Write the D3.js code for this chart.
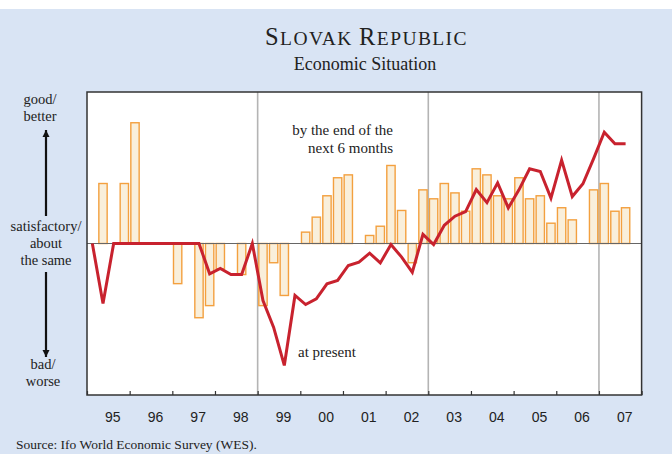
<!DOCTYPE html>
<html>
<head>
<meta charset="utf-8">
<script src="https://cdn.jsdelivr.net/npm/d3@7"></script>
<style>
  body { margin: 0; background: #fff; }
  svg { display: block; }
</style>
</head>
<body>
<svg width="672" height="454"></svg>
<script>
var svg = d3.select("svg"),
    width = +svg.attr("width"),
    height = +svg.attr("height");

// years on the axis
var years = ["95", "96", "97", "98", "99", "00", "01", "02", "03", "04", "05", "06", "07"];
var firstYear = 1995;

// "at present", quarterly from 1995 Q1 to 2007 Q3
var present = [
   0, -39.6, 0, 0,
   0, 0, 0, 0,
   0, 0, 0, -20,
  -16.5, -20.5, -20.5, 0,
  -37.6, -55.4, -80.5, -34.3,
  -40.3, -36.5, -26.6, -24.4,
  -14.5, -12.3, -6.4, -12.8,
  -0.7, -9, -19, 6,
  -0.7, 12, 18, 21,
   35.6, 27, 40, 23.5,
   35.4, 49.3, 47.5, 30,
   55, 31, 39.4, 56,
   73.5, 65.8, 65.8
];

// "by the end of the next 6 months", same quarters (null = no bar)
var expected = [
  null, 39.6, null, 39.6,
  79.7, null, null, null,
  -26.5, null, -49, -41,
  -16.7, null, -20.5, null,
  -41, -12.7, -34.3, null,
   7.5, 17.4, 31.5, 43.4,
   45.3, null, 5.3, 11.4,
   51.5, 21.8, -12.7, 35.4,
   29.5, 39.6, 33.4, 21.3,
   49.3, 45.3, 31.5, 29.5,
   43.4, 29.5, 31.5, 13.4,
   23.6, 15.6, null, 35.4,
   39.6, 21.3, 23.6
];

var gridYears = [1999, 2003, 2007];

var plot = {left: 87, right: 641.6, top: 92, bottom: 395};
var serif = "'Liberation Serif', 'Times New Roman', serif";

// background
svg.append("rect")
    .attr("x", 0).attr("y", 9)
    .attr("width", width).attr("height", height - 9)
    .attr("fill", "#d9e4f4");

var x = d3.scaleLinear()
    .domain([firstYear, firstYear + years.length])
    .range([plot.left, plot.right]);

var y = d3.scaleLinear()
    .domain([-100, 100])
    .range([plot.bottom, plot.top]);

var qx = function(i) { return x(firstYear + (i + 0.5) / 4); };
var barW = (x(firstYear + 0.25) - x(firstYear)) * 0.78;

// plot area
svg.append("rect")
    .attr("x", plot.left).attr("y", plot.top)
    .attr("width", plot.right - plot.left)
    .attr("height", plot.bottom - plot.top)
    .attr("fill", "#fff");

// vertical grid lines
svg.append("g")
  .selectAll("line")
  .data(gridYears)
  .enter()
  .append("line")
    .attr("x1", function(d){ return x(d) })
    .attr("x2", function(d){ return x(d) })
    .attr("y1", plot.top)
    .attr("y2", plot.bottom)
    .attr("stroke", "#b4b4b4")
    .attr("stroke-width", 1.6);

// bars
svg.append("g")
  .selectAll("rect")
  .data(expected.map(function(v, i){ return {i: i, v: v}; }).filter(function(d){ return d.v !== null; }))
  .enter()
  .append("rect")
    .attr("x", function(d){ return qx(d.i) - barW / 2 })
    .attr("y", function(d){ return Math.min(y(d.v), y(0)) })
    .attr("width", barW)
    .attr("height", function(d){ return Math.abs(y(d.v) - y(0)) })
    .attr("fill", "#f9efdb")
    .attr("stroke", "#f3a03f")
    .attr("stroke-width", 1.4);

// zero line
svg.append("line")
    .attr("x1", plot.left).attr("x2", plot.right)
    .attr("y1", y(0)).attr("y2", y(0))
    .attr("stroke", "#666")
    .attr("stroke-width", 1.2);

// present line
svg.append("path")
    .datum(present)
    .attr("fill", "none")
    .attr("stroke", "#c8222e")
    .attr("stroke-width", 3)
    .attr("stroke-linejoin", "miter")
    .attr("d", d3.line()
        .x(function(d, i){ return qx(i) })
        .y(function(d){ return y(d) })
    );

// frame
svg.append("rect")
    .attr("x", plot.left).attr("y", plot.top)
    .attr("width", plot.right - plot.left)
    .attr("height", plot.bottom - plot.top)
    .attr("fill", "none")
    .attr("stroke", "#333")
    .attr("stroke-width", 1.5);

// year ticks (inside, on bottom border)
svg.append("g")
    .attr("transform", "translate(0," + plot.bottom + ")")
    .call(d3.axisBottom(x)
        .tickValues(d3.range(firstYear, firstYear + years.length + 1))
        .tickSize(-4)
        .tickFormat(""))
    .call(function(g){ g.select(".domain").remove(); })
    .selectAll("line")
      .attr("stroke", "#333")
      .attr("stroke-width", 1.2);

// year labels
svg.append("g")
    .attr("transform", "translate(4," + plot.bottom + ")")
    .call(d3.axisBottom(x)
        .tickValues(d3.range(firstYear, firstYear + years.length).map(function(d){ return d + 0.5; }))
        .tickSize(0)
        .tickPadding(17)
        .tickFormat(function(d, i){ return years[i]; }))
    .call(function(g){ g.select(".domain").remove(); })
    .selectAll("text")
      .attr("font-family", "'Liberation Sans', Arial, sans-serif")
      .attr("font-size", 14)
      .attr("fill", "#222");

// title
var title = svg.append("text")
    .attr("x", 366.5).attr("y", 45)
    .attr("text-anchor", "middle")
    .attr("font-family", serif)
    .attr("fill", "#222")
    .attr("letter-spacing", 1.4);
title.append("tspan").attr("font-size", 24.5).text("S");
title.append("tspan").attr("font-size", 19.5).text("LOVAK ");
title.append("tspan").attr("font-size", 24.5).text("R");
title.append("tspan").attr("font-size", 19.5).text("EPUBLIC");

svg.append("text")
    .attr("x", 365).attr("y", 70)
    .attr("text-anchor", "middle")
    .attr("font-family", serif)
    .attr("font-size", 18)
    .attr("fill", "#222")
    .text("Economic Situation");

// annotations
var notes = [
  {x: 393, y: 135, anchor: "end", t: "by the end of the"},
  {x: 393, y: 153, anchor: "end", t: "next 6 months"},
  {x: 298, y: 357, anchor: "start", t: "at present"}
];
svg.append("g")
  .selectAll("text")
  .data(notes)
  .enter()
  .append("text")
    .attr("x", function(d){ return d.x })
    .attr("y", function(d){ return d.y })
    .attr("text-anchor", function(d){ return d.anchor })
    .attr("font-family", serif)
    .attr("font-size", 15)
    .attr("fill", "#222")
    .text(function(d){ return d.t });

// left side labels
var sideLabels = [
  {x: 40, y: 104, t: "good/"},
  {x: 40, y: 121, t: "better"},
  {x: 46, y: 231, t: "satisfactory/"},
  {x: 46, y: 248, t: "about"},
  {x: 46, y: 265, t: "the same"},
  {x: 43, y: 369, t: "bad/"},
  {x: 43, y: 386, t: "worse"}
];
svg.append("g")
  .selectAll("text")
  .data(sideLabels)
  .enter()
  .append("text")
    .attr("x", function(d){ return d.x })
    .attr("y", function(d){ return d.y })
    .attr("text-anchor", "middle")
    .attr("font-family", serif)
    .attr("font-size", 14.5)
    .attr("fill", "#222")
    .text(function(d){ return d.t });

// arrows
var defs = svg.append("defs");
defs.append("marker")
    .attr("id", "head")
    .attr("viewBox", "0 0 10 10")
    .attr("refX", 10).attr("refY", 5)
    .attr("markerWidth", 3.2).attr("markerHeight", 3.2)
    .attr("markerUnits", "strokeWidth")
    .attr("orient", "auto")
  .append("path")
    .attr("d", "M0,0L10,5L0,10z")
    .attr("fill", "#111");

var arrows = [
  {y1: 216, y2: 130},
  {y1: 272, y2: 357}
];
svg.append("g")
  .selectAll("line")
  .data(arrows)
  .enter()
  .append("line")
    .attr("x1", 46).attr("x2", 46)
    .attr("y1", function(d){ return d.y1 })
    .attr("y2", function(d){ return d.y2 })
    .attr("stroke", "#111")
    .attr("stroke-width", 2.2)
    .attr("marker-end", "url(#head)");

// source
svg.append("text")
    .attr("x", 16).attr("y", 449)
    .attr("font-family", serif)
    .attr("font-size", 13.5)
    .attr("fill", "#222")
    .text("Source: Ifo World Economic Survey (WES).");
</script>
</body>
</html>
